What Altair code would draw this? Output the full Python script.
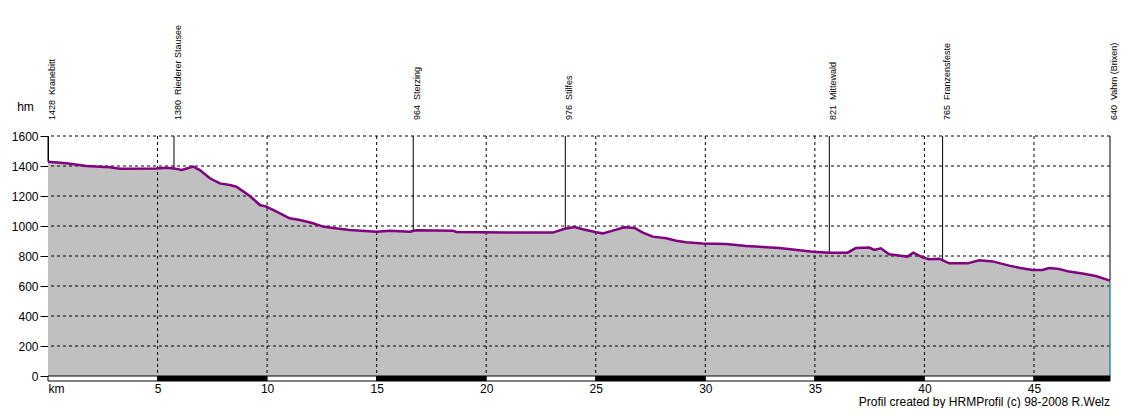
import altair as alt
import pandas as pd

# Elevation profile (km, m)
km = [0.0, 0.85, 1.75, 2.83, 3.28, 4.95, 5.41, 5.75, 6.1, 6.63, 6.93, 7.39, 7.84, 8.3, 8.6,
      9.21, 9.67, 9.97, 10.43, 11.03, 11.49, 12.1, 12.55, 13.01, 13.77, 14.99, 15.6, 16.51,
      16.81, 18.48, 18.64, 20.92, 23.04, 23.58, 24.03, 24.41, 25.02, 25.32, 25.78, 26.31,
      26.77, 27.15, 27.6, 28.21, 28.67, 29.12, 29.88, 30.95, 31.86, 33.38, 33.99, 34.9,
      35.66, 36.49, 36.87, 37.48, 37.71, 38.01, 38.39, 39.0, 39.23, 39.49, 39.91, 40.22,
      40.68, 41.13, 41.97, 42.5, 43.11, 43.87, 44.32, 44.93, 45.39, 45.69, 46.15, 46.6,
      47.21, 47.82, 48.47]
elev = [1428, 1418, 1400, 1391, 1382, 1384, 1389, 1384, 1373, 1396, 1373, 1318, 1284, 1273, 1262,
        1200, 1140, 1129, 1096, 1051, 1040, 1018, 996, 987, 973, 962, 969, 962,
        971, 969, 960, 956, 956, 982, 993, 978, 958, 951, 969, 991,
        987, 956, 929, 918, 902, 891, 884, 880, 867, 853, 844, 829,
        822, 822, 853, 856, 840, 851, 811, 800, 796, 822, 791, 778,
        782, 751, 751, 771, 764, 736, 722, 707, 707, 720, 713, 696,
        684, 667, 636]

# Waypoints
place_names = ["Kranebitt", "Riederer Stausee", "Sterzing", "Stilfes", "Mittewald",
               "Franzensfeste", "Vahrn (Brixen)"]
place_km = [0.0, 5.75, 16.67, 23.61, 35.66, 40.83, 48.47]
place_elev = [1428, 1380, 964, 976, 821, 765, 640]

# Axis ticks
x_ticks = [0, 5, 10, 15, 20, 25, 30, 35, 40, 45]
y_ticks = [0, 200, 400, 600, 800, 1000, 1200, 1400, 1600]
x_grid = [5, 10, 15, 20, 25, 30, 35, 40, 45]
y_grid = [200, 400, 600, 800, 1000, 1200, 1400, 1600]

# Distance scale strip segments
seg_start = [0, 5, 10, 15, 20, 25, 30, 35, 40, 45]
seg_end = [5, 10, 15, 20, 25, 30, 35, 40, 45, 48.47]
seg_fill = ["white", "black", "white", "black", "white", "black", "white", "black", "white", "black"]

footer_text = "Profil created by HRMProfil (c) 98-2008 R.Welz"

km_max = 48.47
FONT = "Liberation Sans"

profile = pd.DataFrame({"km": km, "elev": elev})
places = pd.DataFrame({"km": place_km, "elev": place_elev, "name": place_names})
places["label"] = [f"{e}\u00a0\u00a0{n}" for e, n in zip(place_elev, place_names)]
strip = pd.DataFrame({"km": seg_start, "b": seg_end, "fill": seg_fill})
end_pt = pd.DataFrame({"km": [km[-1]], "elev": [elev[-1]]})

xscale = alt.Scale(domain=[0, km_max], nice=False, zero=False)
yscale = alt.Scale(domain=[0, 1600], nice=False)

X_AXIS = alt.Axis(values=x_ticks, title=None, ticks=False, domain=False, grid=False,
                  labelExpr="datum.value == 0 ? 'km' : datum.label",
                  labelFlush=True, labelFontSize=12, labelFont=FONT,
                  labelColor="black", labelPadding=7)
Y_AXIS = alt.Axis(values=y_ticks, format="d", grid=False, domainColor="black", tickColor="black",
                  tickSize=8, labelFontSize=12, labelFont=FONT, labelColor="black",
                  labelPadding=2, title="hm", titleAngle=0, titleX=-23, titleY=-30,
                  titleAlign="center", titleBaseline="middle", titleFontSize=12,
                  titleFontWeight="normal", titleFont=FONT, titleColor="black")


def X(field="km"):
    return alt.X(f"{field}:Q", scale=xscale, axis=X_AXIS)


def Y(field="elev"):
    return alt.Y(f"{field}:Q", scale=yscale, axis=Y_AXIS)


area = alt.Chart(profile).mark_area(color="#C0C0C0", opacity=1).encode(x=X(), y=Y())

vgrid = alt.Chart(pd.DataFrame({"km": x_grid})).mark_rule(
    color="black", strokeDash=[3, 3], strokeWidth=1).encode(x=X())

hgrid = alt.Chart(pd.DataFrame({"elev": y_grid})).mark_rule(
    color="black", strokeDash=[3, 3], strokeWidth=1).encode(y=Y())

teal = alt.Chart(end_pt).mark_rule(color="#2E9494", strokeWidth=1.5).encode(
    x=X(), y=Y(), y2=alt.datum(0))

prules = alt.Chart(places).mark_rule(color="black", strokeWidth=1).encode(
    x=X(), y=Y(), y2=alt.datum(1600))

line = alt.Chart(profile).mark_line(color="#800080", strokeWidth=2.5).encode(x=X(), y=Y())

bar = alt.Chart(strip).mark_rect(stroke="black", strokeWidth=1).encode(
    x=X(), x2="b:Q",
    y=alt.value(240), y2=alt.value(245),
    fill=alt.Fill("fill:N", scale=None),
)

labels = alt.Chart(places).mark_text(
    angle=270, align="left", baseline="top", fontSize=9, font=FONT, color="black").encode(
    x=X(), y=alt.value(-16), text="label:N")

footer = alt.Chart(pd.DataFrame({"t": [footer_text]})).mark_text(
    align="right", baseline="alphabetic", fontSize=12, font=FONT, color="black").encode(
    x=alt.value(1062), y=alt.value(270), text="t:N")

chart = alt.layer(area, vgrid, hgrid, teal, prules, line, bar, labels, footer).properties(
    width=1062, height=240,
    padding={"left": 40, "top": 128, "right": 13, "bottom": 32},
    autosize=alt.AutoSizeParams(type="none"),
    background="white",
).configure_view(stroke=None)

chart.save("out.html", embed_options={"renderer": "svg", "actions": False})
